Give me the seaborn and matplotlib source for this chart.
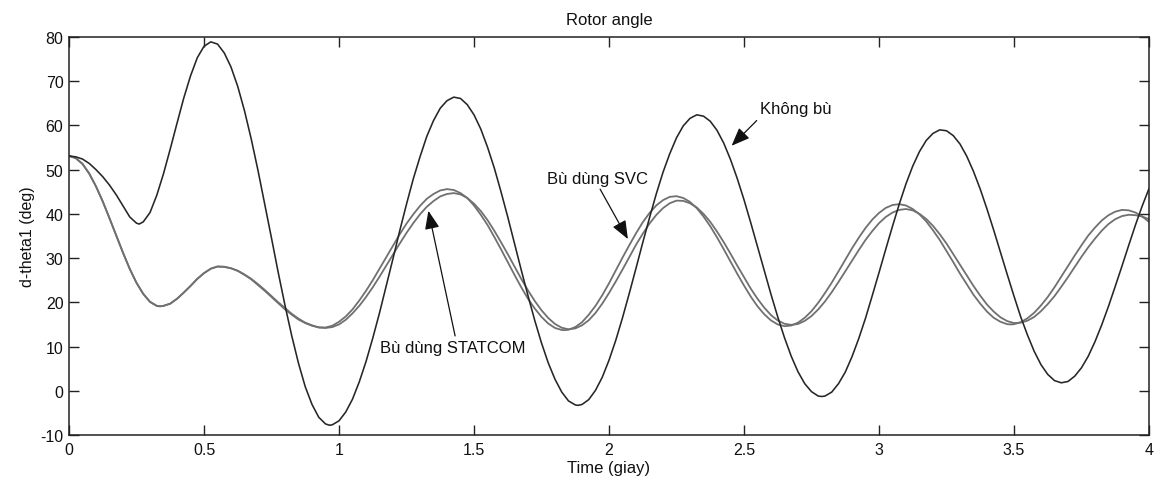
import numpy as np
import pandas as pd
import matplotlib
matplotlib.use("Agg")
import matplotlib.pyplot as plt
import seaborn as sns

# ---------------- data (every 0.025 s) ----------------
time_grid = [round(0.025 * i, 3) for i in range(161)]

khong_bu = [
    53.1, 52.9, 52.4, 51.4, 50.0, 48.4, 46.5, 44.3,
    41.8, 39.3, 37.9, 38.2, 40.3, 44.2, 49.1, 54.7,
    60.5, 66.2, 71.2, 75.3, 77.9, 78.9, 78.4, 76.4,
    73.2, 68.8, 63.3, 56.9, 49.8, 42.2, 34.5, 26.7,
    19.3, 12.4, 6.2, 0.9, -3.1, -6.0, -7.5, -7.7,
    -6.8, -4.8, -1.9, 2.0, 6.6, 11.9, 17.6, 23.7,
    29.9, 36.2, 42.2, 47.9, 52.9, 57.5, 61.1, 63.9,
    65.6, 66.4, 66.1, 64.7, 62.4, 59.2, 55.1, 50.4,
    45.0, 39.3, 33.3, 27.3, 21.5, 15.9, 10.8, 6.3,
    2.6, -0.3, -2.3, -3.2, -3.1, -2.0, 0.1, 3.05,
    6.9, 11.4, 16.5, 22.0, 27.7, 33.5, 39.1, 44.5,
    49.4, 53.6, 57.2, 59.9, 61.6, 62.4, 62.1, 60.95,
    58.9, 56.0, 52.3, 48.0, 43.2, 38.0, 32.6, 27.2,
    21.8, 16.7, 12.0, 7.8, 4.3, 1.6, -0.2, -1.2,
    -1.2, -0.3, 1.6, 4.2, 7.7, 11.8, 16.4, 21.5,
    26.7, 32.0, 37.2, 42.2, 46.8, 50.8, 54.1, 56.6,
    58.2, 59.0, 58.8, 57.7, 55.8, 53.05, 49.6, 45.6,
    41.1, 36.3, 31.3, 26.3, 21.4, 16.7, 12.6, 8.9,
    5.9, 3.7, 2.3, 1.8, 2.1, 3.3, 5.2, 7.8,
    11.1, 14.9, 19.1, 23.6, 28.2, 32.9, 37.5, 41.8,
    45.7]
khong_bu_ext_t = [0.26, 0.965, 1.885, 2.788]
khong_bu_ext_v = [37.7, -7.8, -3.3, -1.3]

svc = [
    53.1, 52.6, 51.3, 49.1, 46.2, 42.8, 39.0, 35.1,
    31.2, 27.55, 24.4, 21.9, 20.1, 19.2, 19.2, 19.7,
    20.8, 22.2, 23.7, 25.3, 26.6, 27.6, 28.1, 28.0,
    27.7, 27.1, 26.2, 25.2, 23.9, 22.6, 21.2, 19.8,
    18.4, 17.2, 16.1, 15.3, 14.7, 14.35, 14.3, 14.7,
    15.6, 16.8, 18.4, 20.4, 22.6, 25.0, 27.6, 30.2,
    32.8, 35.4, 37.8, 39.9, 41.8, 43.4, 44.5, 45.3,
    45.6, 45.4, 44.7, 43.6, 41.9, 39.8, 37.5, 34.8,
    32.0, 29.1, 26.2, 23.4, 20.8, 18.6, 16.7, 15.2,
    14.2, 13.75, 13.8, 14.4, 15.5, 17.2, 19.2, 21.6,
    24.3, 27.2, 30.1, 32.9, 35.6, 38.1, 40.2, 41.9,
    43.1, 43.85, 44.0, 43.6, 42.7, 41.3, 39.4, 37.2,
    34.7, 32.0, 29.2, 26.45, 23.8, 21.3, 19.1, 17.3,
    15.9, 15.0, 14.6, 14.75, 15.4, 16.5, 18.0, 19.9,
    22.1, 24.45, 27.0, 29.6, 32.2, 34.6, 36.8, 38.7,
    40.2, 41.35, 42.0, 42.2, 41.9, 41.1, 39.9, 38.3,
    36.3, 34.1, 31.6, 29.1, 26.5, 24.1, 21.7, 19.7,
    17.9, 16.5, 15.6, 15.05, 15.05, 15.5, 16.4, 17.65,
    19.3, 21.2, 23.4, 25.8, 28.2, 30.6, 32.9, 35.1,
    36.9, 38.5, 39.7, 40.5, 40.9, 40.8, 40.3, 39.4,
    38.2]
svc_ext_t = [0.337, 1.835, 3.488]
svc_ext_v = [19.1, 13.7, 15.0]

statcom = [
    53.1, 52.6, 51.3, 49.1, 46.2, 42.8, 39.0, 35.1,
    31.2, 27.55, 24.4, 21.9, 20.1, 19.2, 19.2, 19.7,
    20.8, 22.2, 23.7, 25.3, 26.6, 27.6, 28.1, 28.05,
    27.7, 27.15, 26.3, 25.3, 24.1, 22.8, 21.4, 20.0,
    18.7, 17.4, 16.3, 15.4, 14.8, 14.3, 14.2, 14.4,
    15.0, 16.05, 17.5, 19.2, 21.2, 23.4, 25.8, 28.3,
    30.8, 33.3, 35.7, 37.9, 39.9, 41.6, 42.9, 43.95,
    44.5, 44.7, 44.4, 43.6, 42.3, 40.65, 38.6, 36.2,
    33.6, 30.9, 28.1, 25.3, 22.7, 20.3, 18.2, 16.45,
    15.1, 14.25, 13.9, 14.1, 14.8, 15.95, 17.6, 19.7,
    22.1, 24.7, 27.4, 30.2, 33.0, 35.5, 37.8, 39.75,
    41.3, 42.4, 43.0, 42.94, 42.4, 41.45, 40.0, 38.2,
    36.0, 33.6, 31.0, 28.3, 25.7, 23.1, 20.8, 18.8,
    17.1, 15.9, 15.15, 14.9, 15.1, 15.8, 16.9, 18.4,
    20.2, 22.3, 24.6, 27.0, 29.4, 31.8, 34.1, 36.1,
    37.9, 39.3, 40.3, 40.9, 41.1, 40.8, 40.0, 38.85,
    37.3, 35.4, 33.3, 30.9, 28.5, 26.1, 23.7, 21.5,
    19.5, 17.9, 16.6, 15.75, 15.3, 15.4, 15.85, 16.7,
    18.0, 19.6, 21.4, 23.5, 25.7, 28.0, 30.3, 32.45,
    34.4, 36.2, 37.7, 38.8, 39.5, 39.8, 39.7, 39.4,
    38.8]
statcom_ext_t = [0.337]
statcom_ext_v = [19.1]

x_ticks = [0, 0.5, 1, 1.5, 2, 2.5, 3, 3.5, 4]
x_tick_labels = ["0", "0.5", "1", "1.5", "2", "2.5", "3", "3.5", "4"]
y_ticks = [-10, 0, 10, 20, 30, 40, 50, 60, 70, 80]

# ---------------- build long-form table ----------------
def series(name, t, v, et, ev):
    return pd.DataFrame({"t": list(t) + list(et), "v": list(v) + list(ev), "s": name})

df = pd.concat([
    series("Bù dùng SVC", time_grid, svc, svc_ext_t, svc_ext_v),
    series("Bù dùng STATCOM", time_grid, statcom, statcom_ext_t, statcom_ext_v),
    series("Không bù", time_grid, khong_bu, khong_bu_ext_t, khong_bu_ext_v),
], ignore_index=True)

sns.set_theme(style="white")
plt.rcParams["font.family"] = ["Liberation Sans", "DejaVu Sans"]
plt.rcParams["axes.unicode_minus"] = False

fig = plt.figure(figsize=(11.6, 4.81), dpi=100)
ax = fig.add_axes([0.0595, 0.0936, 0.931, 0.8274])

palette = {"Bù dùng SVC": "#707070", "Bù dùng STATCOM": "#707070", "Không bù": "#262626"}
sizes = {"Bù dùng SVC": 1.3, "Bù dùng STATCOM": 1.3, "Không bù": 1.15}
for name in ["Bù dùng SVC", "Bù dùng STATCOM", "Không bù"]:
    sns.lineplot(data=df[df["s"] == name], x="t", y="v", color=palette[name],
                 linewidth=sizes[name], estimator=None, sort=True, ax=ax, legend=False)

ax.set_xlim(0, 4)
ax.set_ylim(-10, 80)
ax.set_xticks(x_ticks)
ax.set_xticklabels(x_tick_labels)
ax.set_yticks(y_ticks)
ax.tick_params(axis="both", direction="in", length=7, width=1.0, color="#222222",
               labelsize=11.5, labelcolor="#111111", top=True, right=True,
               bottom=True, left=True)
ax.tick_params(axis="x", pad=5)
ax.tick_params(axis="y", pad=4)
for sp in ax.spines.values():
    sp.set_visible(True)
    sp.set_color("#222222")
    sp.set_linewidth(1.1)

ax.set_title("Rotor angle", fontsize=12, pad=9, color="#111111")
ax.set_xlabel("Time (giay)", fontsize=12, labelpad=2, color="#111111")
ax.set_ylabel("d-theta1 (deg)", fontsize=11.5, labelpad=4, color="#111111")

arrow_kw = dict(arrowstyle="-|>,head_length=0.7,head_width=0.28", color="#111111",
                lw=0.9, mutation_scale=16, shrinkA=0, shrinkB=0)

ax.text(2.559, 63.9, "Không bù", fontsize=12, ha="left", va="center", color="#111111")
ax.annotate("", xy=(2.454, 55.4), xytext=(2.547, 61.1), arrowprops=arrow_kw)

ax.text(1.770, 47.9, "Bù dùng SVC", fontsize=12, ha="left", va="center", color="#111111")
ax.annotate("", xy=(2.070, 34.3), xytext=(1.967, 45.6), arrowprops=arrow_kw)

ax.text(1.152, 9.8, "Bù dùng STATCOM", fontsize=12, ha="left", va="center", color="#111111")
ax.annotate("", xy=(1.331, 40.7), xytext=(1.430, 12.4), arrowprops=arrow_kw)

fig.savefig("out.png", dpi=100)
